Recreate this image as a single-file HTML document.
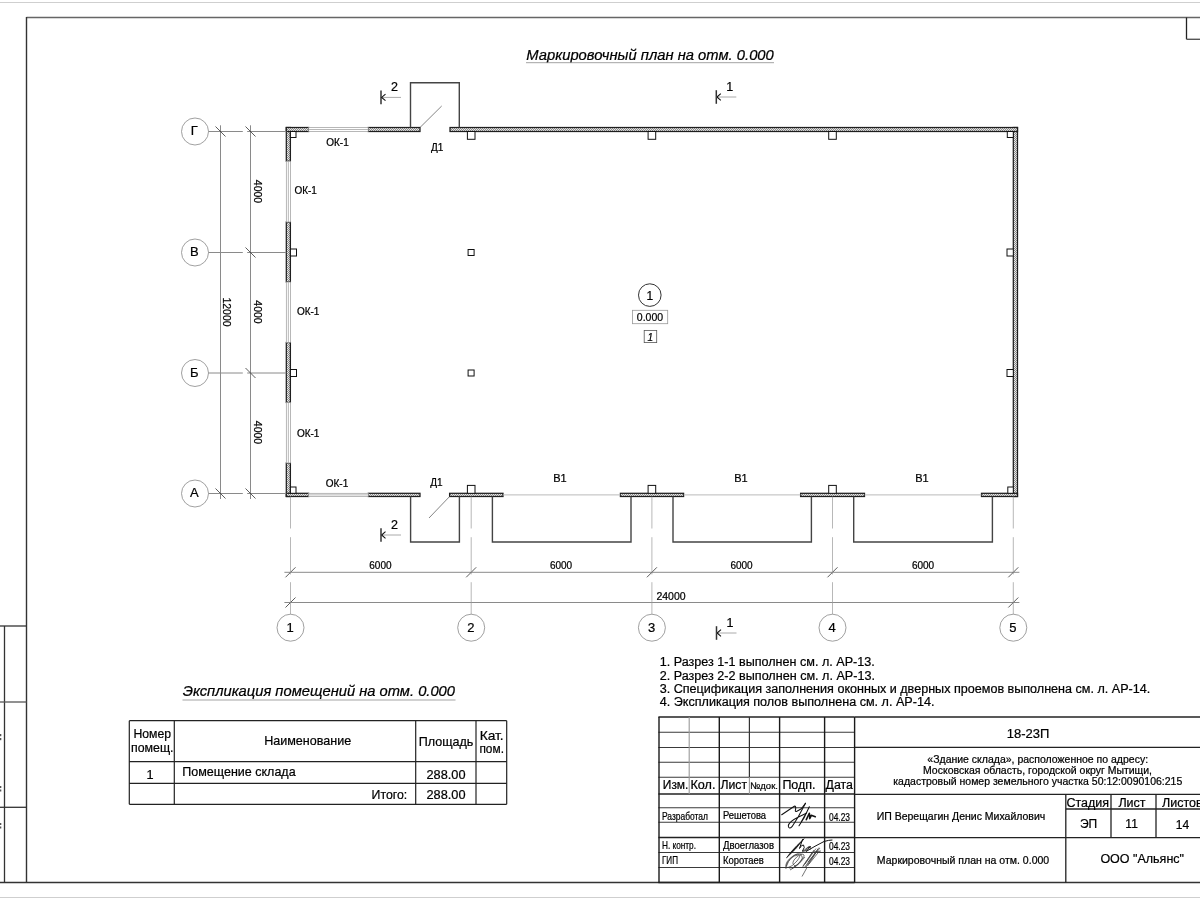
<!DOCTYPE html><html><head><meta charset="utf-8"><style>html,body{margin:0;padding:0;background:#fff;}svg{display:block;will-change:transform;}text{font-family:"Liberation Sans",sans-serif;stroke:#000;stroke-width:0.22px;}</style></head><body>
<svg width="1200" height="900" viewBox="0 0 1200 900">
<defs><pattern id="hat" width="2" height="2" patternUnits="userSpaceOnUse"><rect width="2" height="2" fill="#e8e8e8"/><rect width="1" height="1" fill="#8a8a8a"/><rect x="1" y="1" width="1" height="1" fill="#8a8a8a"/></pattern></defs>
<rect width="1200" height="900" fill="#fff"/>
<line x1="0" y1="2.5" x2="1200" y2="2.5" stroke="#cfcfcf" stroke-width="1.2" />
<line x1="0" y1="897.5" x2="1200" y2="897.5" stroke="#cfcfcf" stroke-width="1.2" />
<line x1="26.5" y1="17.5" x2="1200" y2="17.5" stroke="#666" stroke-width="1.5" />
<line x1="26.5" y1="17" x2="26.5" y2="882.5" stroke="#333" stroke-width="1.4" />
<line x1="0" y1="882.5" x2="1200" y2="882.5" stroke="#333" stroke-width="1.4" />
<line x1="1186.5" y1="17.5" x2="1186.5" y2="39.3" stroke="#222" stroke-width="1.3" />
<line x1="1186.5" y1="39.3" x2="1200" y2="39.3" stroke="#555" stroke-width="1.4" />
<line x1="0" y1="626" x2="26.5" y2="626" stroke="#333" stroke-width="1.3" />
<line x1="4.5" y1="626" x2="4.5" y2="882.5" stroke="#333" stroke-width="1.3" />
<line x1="0" y1="702" x2="26.5" y2="702" stroke="#555" stroke-width="1.3" />
<line x1="0" y1="807.3" x2="26.5" y2="807.3" stroke="#333" stroke-width="1.3" />
<rect x="0" y="734" width="1.3" height="2.2" stroke="none" stroke-width="0" fill="#555" />
<rect x="0" y="738" width="1.3" height="2.2" stroke="none" stroke-width="0" fill="#555" />
<rect x="0" y="786" width="1.3" height="2" stroke="none" stroke-width="0" fill="#555" />
<rect x="0" y="789.5" width="1.3" height="2" stroke="none" stroke-width="0" fill="#555" />
<rect x="0" y="823" width="1.3" height="2" stroke="none" stroke-width="0" fill="#555" />
<rect x="0" y="826.5" width="1.3" height="2" stroke="none" stroke-width="0" fill="#555" />
<rect x="286.3" y="127.5" width="4.099999999999966" height="33.69999999999999" stroke="#1e1e1e" stroke-width="1.25" fill="url(#hat)" />
<rect x="286.3" y="222" width="4.099999999999966" height="60" stroke="#1e1e1e" stroke-width="1.25" fill="url(#hat)" />
<rect x="286.3" y="342.5" width="4.099999999999966" height="60.0" stroke="#1e1e1e" stroke-width="1.25" fill="url(#hat)" />
<rect x="286.3" y="463" width="4.099999999999966" height="33.5" stroke="#1e1e1e" stroke-width="1.25" fill="url(#hat)" />
<rect x="286.3" y="161.2" width="4.099999999999966" height="60.80000000000001" stroke="#999" stroke-width="0.7" fill="#fff" />
<line x1="288.35" y1="161.2" x2="288.35" y2="222" stroke="#999" stroke-width="0.7" />
<rect x="286.3" y="282" width="4.099999999999966" height="60.5" stroke="#999" stroke-width="0.7" fill="#fff" />
<line x1="288.35" y1="282" x2="288.35" y2="342.5" stroke="#999" stroke-width="0.7" />
<rect x="286.3" y="402.5" width="4.099999999999966" height="60.5" stroke="#999" stroke-width="0.7" fill="#fff" />
<line x1="288.35" y1="402.5" x2="288.35" y2="463" stroke="#999" stroke-width="0.7" />
<rect x="1013.3" y="127.5" width="4.2000000000000455" height="369.0" stroke="#1e1e1e" stroke-width="1.25" fill="url(#hat)" />
<rect x="286.3" y="127.5" width="22.399999999999977" height="4.0" stroke="#1e1e1e" stroke-width="1.25" fill="url(#hat)" />
<rect x="368.2" y="127.5" width="51.80000000000001" height="4.0" stroke="#1e1e1e" stroke-width="1.25" fill="url(#hat)" />
<rect x="450" y="127.5" width="567.5" height="4.0" stroke="#1e1e1e" stroke-width="1.25" fill="url(#hat)" />
<rect x="308.7" y="127.5" width="59.5" height="4.0" stroke="#999" stroke-width="0.7" fill="#fff" />
<line x1="308.7" y1="129.5" x2="368.2" y2="129.5" stroke="#999" stroke-width="0.7" />
<rect x="286.3" y="493.3" width="22.30000000000001" height="3.1999999999999886" stroke="#1e1e1e" stroke-width="1.25" fill="url(#hat)" />
<rect x="368.3" y="493.3" width="51.69999999999999" height="3.1999999999999886" stroke="#1e1e1e" stroke-width="1.25" fill="url(#hat)" />
<rect x="449.6" y="493.3" width="53.39999999999998" height="3.1999999999999886" stroke="#1e1e1e" stroke-width="1.25" fill="url(#hat)" />
<rect x="620.4" y="493.3" width="63.200000000000045" height="3.1999999999999886" stroke="#1e1e1e" stroke-width="1.25" fill="url(#hat)" />
<rect x="800.6" y="493.3" width="63.89999999999998" height="3.1999999999999886" stroke="#1e1e1e" stroke-width="1.25" fill="url(#hat)" />
<rect x="981.5" y="493.3" width="36.0" height="3.1999999999999886" stroke="#1e1e1e" stroke-width="1.25" fill="url(#hat)" />
<rect x="308.6" y="493.3" width="59.69999999999999" height="3.1999999999999886" stroke="#999" stroke-width="0.7" fill="#fff" />
<line x1="308.6" y1="494.9" x2="368.3" y2="494.9" stroke="#999" stroke-width="0.7" />
<line x1="503" y1="494.9" x2="620.4" y2="494.9" stroke="#bbb" stroke-width="1" />
<line x1="683.6" y1="494.9" x2="800.6" y2="494.9" stroke="#bbb" stroke-width="1" />
<line x1="864.5" y1="494.9" x2="981.5" y2="494.9" stroke="#bbb" stroke-width="1" />
<polyline points="410.5,127.5 410.5,82.8 459.3,82.8 459.3,127.5" fill="none" stroke="#444" stroke-width="1.4"/>
<polyline points="410.6,496.5 410.6,542 459.4,542 459.4,496.5" fill="none" stroke="#444" stroke-width="1.4"/>
<polyline points="492.4,496.5 492.4,542 631,542 631,496.5" fill="none" stroke="#444" stroke-width="1.4"/>
<polyline points="673,496.5 673,542 811.4,542 811.4,496.5" fill="none" stroke="#444" stroke-width="1.4"/>
<polyline points="853.7,496.5 853.7,542 992.4,542 992.4,496.5" fill="none" stroke="#444" stroke-width="1.4"/>
<line x1="420" y1="127.5" x2="441.7" y2="106" stroke="#666" stroke-width="0.8" />
<line x1="449.6" y1="496.5" x2="429" y2="518" stroke="#666" stroke-width="0.8" />
<rect x="467.4" y="131.5" width="7.600000000000023" height="7.800000000000011" stroke="#111" stroke-width="1" fill="#fff" />
<rect x="467.4" y="485.4" width="7.600000000000023" height="7.900000000000034" stroke="#111" stroke-width="1" fill="#fff" />
<rect x="648.1" y="131.5" width="7.599999999999909" height="7.800000000000011" stroke="#111" stroke-width="1" fill="#fff" />
<rect x="648.1" y="485.4" width="7.599999999999909" height="7.900000000000034" stroke="#111" stroke-width="1" fill="#fff" />
<rect x="828.7" y="131.5" width="7.599999999999909" height="7.800000000000011" stroke="#111" stroke-width="1" fill="#fff" />
<rect x="828.7" y="485.4" width="7.599999999999909" height="7.900000000000034" stroke="#111" stroke-width="1" fill="#fff" />
<rect x="290.4" y="131.5" width="5.600000000000023" height="6.0" stroke="#111" stroke-width="1" fill="#fff" />
<rect x="1007.3" y="131.5" width="6.0" height="6.0" stroke="#111" stroke-width="1" fill="#fff" />
<rect x="290.4" y="487" width="5.600000000000023" height="6.300000000000011" stroke="#111" stroke-width="1" fill="#fff" />
<rect x="1007.8" y="487" width="5.5" height="6.300000000000011" stroke="#111" stroke-width="1" fill="#fff" />
<rect x="290.4" y="249.0" width="6.100000000000023" height="7.0" stroke="#111" stroke-width="1" fill="#fff" />
<rect x="1007" y="249.0" width="6.2999999999999545" height="7.0" stroke="#111" stroke-width="1" fill="#fff" />
<rect x="468.1" y="249.5" width="6.0" height="6.0" stroke="#111" stroke-width="1" fill="#fff" />
<rect x="290.4" y="369.5" width="6.100000000000023" height="7.0" stroke="#111" stroke-width="1" fill="#fff" />
<rect x="1007" y="369.5" width="6.2999999999999545" height="7.0" stroke="#111" stroke-width="1" fill="#fff" />
<rect x="468.1" y="370" width="6.0" height="6" stroke="#111" stroke-width="1" fill="#fff" />
<circle cx="195" cy="131.5" r="13.5" fill="none" stroke="#888" stroke-width="0.8"/>
<text x="194.3" y="135.1" font-size="13" text-anchor="middle" fill="#000" style="" >Г</text>
<line x1="208.5" y1="131.5" x2="242.8" y2="131.5" stroke="#8a8a8a" stroke-width="1" />
<line x1="247.2" y1="131.5" x2="286.3" y2="131.5" stroke="#8a8a8a" stroke-width="1" />
<circle cx="195" cy="252.5" r="13.5" fill="none" stroke="#888" stroke-width="0.8"/>
<text x="194.3" y="256.1" font-size="13" text-anchor="middle" fill="#000" style="" >В</text>
<line x1="208.5" y1="252.5" x2="242.8" y2="252.5" stroke="#8a8a8a" stroke-width="1" />
<line x1="247.2" y1="252.5" x2="286.3" y2="252.5" stroke="#8a8a8a" stroke-width="1" />
<circle cx="195" cy="373" r="13.5" fill="none" stroke="#888" stroke-width="0.8"/>
<text x="194.3" y="376.6" font-size="13" text-anchor="middle" fill="#000" style="" >Б</text>
<line x1="208.5" y1="373" x2="242.8" y2="373" stroke="#8a8a8a" stroke-width="1" />
<line x1="247.2" y1="373" x2="286.3" y2="373" stroke="#8a8a8a" stroke-width="1" />
<circle cx="195" cy="493.5" r="13.5" fill="none" stroke="#888" stroke-width="0.8"/>
<text x="194.3" y="497.1" font-size="13" text-anchor="middle" fill="#000" style="" >А</text>
<line x1="208.5" y1="493.5" x2="242.8" y2="493.5" stroke="#8a8a8a" stroke-width="1" />
<line x1="247.2" y1="493.5" x2="286.3" y2="493.5" stroke="#8a8a8a" stroke-width="1" />
<line x1="220.5" y1="125.3" x2="220.5" y2="499" stroke="#8a8a8a" stroke-width="1" />
<line x1="250.5" y1="125.3" x2="250.5" y2="499" stroke="#8a8a8a" stroke-width="1" />
<line x1="215.5" y1="126.5" x2="225.5" y2="136.5" stroke="#333" stroke-width="0.8" />
<line x1="215.5" y1="488.5" x2="225.5" y2="498.5" stroke="#333" stroke-width="0.8" />
<line x1="245.5" y1="126.5" x2="255.5" y2="136.5" stroke="#333" stroke-width="0.8" />
<line x1="245.5" y1="247.5" x2="255.5" y2="257.5" stroke="#333" stroke-width="0.8" />
<line x1="245.5" y1="368" x2="255.5" y2="378" stroke="#333" stroke-width="0.8" />
<line x1="245.5" y1="488.5" x2="255.5" y2="498.5" stroke="#333" stroke-width="0.8" />
<text x="0" y="0" font-size="10.5" text-anchor="middle" fill="#000" style="" transform="translate(254.2,191.5) rotate(90)">4000</text>
<text x="0" y="0" font-size="10.5" text-anchor="middle" fill="#000" style="" transform="translate(254.2,312) rotate(90)">4000</text>
<text x="0" y="0" font-size="10.5" text-anchor="middle" fill="#000" style="" transform="translate(254.2,432.5) rotate(90)">4000</text>
<text x="0" y="0" font-size="10.5" text-anchor="middle" fill="#000" style="" transform="translate(223.4,312) rotate(90)">12000</text>
<line x1="284.4" y1="572.3" x2="1019.4" y2="572.3" stroke="#8a8a8a" stroke-width="1" />
<line x1="284.4" y1="602.5" x2="1019.4" y2="602.5" stroke="#8a8a8a" stroke-width="1" />
<line x1="285.5" y1="577.3" x2="295.5" y2="567.3" stroke="#333" stroke-width="0.8" />
<line x1="466.2" y1="577.3" x2="476.2" y2="567.3" stroke="#333" stroke-width="0.8" />
<line x1="646.9" y1="577.3" x2="656.9" y2="567.3" stroke="#333" stroke-width="0.8" />
<line x1="827.5" y1="577.3" x2="837.5" y2="567.3" stroke="#333" stroke-width="0.8" />
<line x1="1008.3" y1="577.3" x2="1018.3" y2="567.3" stroke="#333" stroke-width="0.8" />
<line x1="285.5" y1="607.5" x2="295.5" y2="597.5" stroke="#333" stroke-width="0.8" />
<line x1="1008.3" y1="607.5" x2="1018.3" y2="597.5" stroke="#333" stroke-width="0.8" />
<line x1="290.5" y1="496.5" x2="290.5" y2="528.5" stroke="#999" stroke-width="0.7" />
<line x1="290.5" y1="537.2" x2="290.5" y2="574.4" stroke="#999" stroke-width="0.7" />
<line x1="290.5" y1="582.2" x2="290.5" y2="614.2" stroke="#999" stroke-width="0.7" />
<circle cx="290.5" cy="627.7" r="13.5" fill="none" stroke="#888" stroke-width="0.8"/>
<text x="290.1" y="632" font-size="13" text-anchor="middle" fill="#000" style="" >1</text>
<line x1="471.2" y1="496.5" x2="471.2" y2="528.5" stroke="#999" stroke-width="0.7" />
<line x1="471.2" y1="537.2" x2="471.2" y2="574.4" stroke="#999" stroke-width="0.7" />
<line x1="471.2" y1="582.2" x2="471.2" y2="614.2" stroke="#999" stroke-width="0.7" />
<circle cx="471.2" cy="627.7" r="13.5" fill="none" stroke="#888" stroke-width="0.8"/>
<text x="470.8" y="632" font-size="13" text-anchor="middle" fill="#000" style="" >2</text>
<line x1="651.9" y1="496.5" x2="651.9" y2="528.5" stroke="#999" stroke-width="0.7" />
<line x1="651.9" y1="537.2" x2="651.9" y2="574.4" stroke="#999" stroke-width="0.7" />
<line x1="651.9" y1="582.2" x2="651.9" y2="614.2" stroke="#999" stroke-width="0.7" />
<circle cx="651.9" cy="627.7" r="13.5" fill="none" stroke="#888" stroke-width="0.8"/>
<text x="651.5" y="632" font-size="13" text-anchor="middle" fill="#000" style="" >3</text>
<line x1="832.5" y1="496.5" x2="832.5" y2="528.5" stroke="#999" stroke-width="0.7" />
<line x1="832.5" y1="537.2" x2="832.5" y2="574.4" stroke="#999" stroke-width="0.7" />
<line x1="832.5" y1="582.2" x2="832.5" y2="614.2" stroke="#999" stroke-width="0.7" />
<circle cx="832.5" cy="627.7" r="13.5" fill="none" stroke="#888" stroke-width="0.8"/>
<text x="832.1" y="632" font-size="13" text-anchor="middle" fill="#000" style="" >4</text>
<line x1="1013.3" y1="496.5" x2="1013.3" y2="528.5" stroke="#999" stroke-width="0.7" />
<line x1="1013.3" y1="537.2" x2="1013.3" y2="574.4" stroke="#999" stroke-width="0.7" />
<line x1="1013.3" y1="582.2" x2="1013.3" y2="614.2" stroke="#999" stroke-width="0.7" />
<circle cx="1013.3" cy="627.7" r="13.5" fill="none" stroke="#888" stroke-width="0.8"/>
<text x="1012.9" y="632" font-size="13" text-anchor="middle" fill="#000" style="" >5</text>
<text x="380.4" y="569" font-size="10" text-anchor="middle" fill="#000" style="" >6000</text>
<text x="561" y="569" font-size="10" text-anchor="middle" fill="#000" style="" >6000</text>
<text x="741.5" y="569" font-size="10" text-anchor="middle" fill="#000" style="" >6000</text>
<text x="923" y="569" font-size="10" text-anchor="middle" fill="#000" style="" >6000</text>
<text x="671" y="599.5" font-size="10.5" text-anchor="middle" fill="#000" style="" >24000</text>
<text x="337.5" y="146" font-size="10" text-anchor="middle" fill="#000" style="" >ОК-1</text>
<text x="437.2" y="151" font-size="10" text-anchor="middle" fill="#000" style="" >Д1</text>
<text x="294.4" y="194" font-size="10" text-anchor="start" fill="#000" style="" >ОК-1</text>
<text x="296.9" y="315" font-size="10" text-anchor="start" fill="#000" style="" >ОК-1</text>
<text x="296.9" y="437" font-size="10" text-anchor="start" fill="#000" style="" >ОК-1</text>
<text x="337" y="486.6" font-size="10" text-anchor="middle" fill="#000" style="" >ОК-1</text>
<text x="436.3" y="485.6" font-size="10" text-anchor="middle" fill="#000" style="" >Д1</text>
<text x="560" y="482" font-size="11" text-anchor="middle" fill="#000" style="" >В1</text>
<text x="741" y="482" font-size="11" text-anchor="middle" fill="#000" style="" >В1</text>
<text x="922" y="482" font-size="11" text-anchor="middle" fill="#000" style="" >В1</text>
<line x1="381" y1="90.60000000000001" x2="381" y2="104.2" stroke="#333" stroke-width="1.5" />
<line x1="381" y1="97.4" x2="401" y2="97.4" stroke="#aaa" stroke-width="1" />
<polyline points="385.5,94.10000000000001 381.6,97.4 385.5,100.7" fill="none" stroke="#111" stroke-width="1.1"/>
<text x="394.5" y="91.2" font-size="12.5" text-anchor="middle" fill="#000" style="" >2</text>
<line x1="381" y1="528.2" x2="381" y2="541.8" stroke="#333" stroke-width="1.5" />
<line x1="381" y1="535" x2="401" y2="535" stroke="#aaa" stroke-width="1" />
<polyline points="385.5,531.7 381.6,535 385.5,538.3" fill="none" stroke="#111" stroke-width="1.1"/>
<text x="394.5" y="528.8" font-size="12.5" text-anchor="middle" fill="#000" style="" >2</text>
<line x1="716.3" y1="90.2" x2="716.3" y2="103.8" stroke="#333" stroke-width="1.5" />
<line x1="716.3" y1="97" x2="736.3" y2="97" stroke="#aaa" stroke-width="1" />
<polyline points="720.8,93.7 716.9,97 720.8,100.3" fill="none" stroke="#111" stroke-width="1.1"/>
<text x="729.8" y="90.8" font-size="12.5" text-anchor="middle" fill="#000" style="" >1</text>
<line x1="716.5" y1="626.2" x2="716.5" y2="639.8" stroke="#333" stroke-width="1.5" />
<line x1="716.5" y1="633" x2="736.5" y2="633" stroke="#aaa" stroke-width="1" />
<polyline points="721.0,629.7 717.1,633 721.0,636.3" fill="none" stroke="#111" stroke-width="1.1"/>
<text x="730.0" y="626.8" font-size="12.5" text-anchor="middle" fill="#000" style="" >1</text>
<circle cx="649.8" cy="295.1" r="11.3" fill="none" stroke="#333" stroke-width="1"/>
<text x="649.8" y="299.5" font-size="12" text-anchor="middle" fill="#000" style="" >1</text>
<rect x="632.5" y="310.3" width="35.2" height="13.4" stroke="#999" stroke-width="0.8" fill="none" />
<text x="650" y="321" font-size="10.5" text-anchor="middle" fill="#000" style="" >0.000</text>
<rect x="644.2" y="330.4" width="12.5" height="12.2" stroke="#555" stroke-width="0.8" fill="none" />
<text x="650.2" y="340.5" font-size="10" text-anchor="middle" fill="#000" style="font-style:italic" >1</text>
<text x="526.3" y="60" font-size="14.5" text-anchor="start" fill="#000" textLength="247.5" lengthAdjust="spacingAndGlyphs" style="font-style:italic" >Маркировочный план на отм. 0.000</text>
<line x1="526" y1="62.7" x2="774" y2="62.7" stroke="#999" stroke-width="0.9" />
<text x="659.7" y="665.8" font-size="12.5" text-anchor="start" fill="#000" textLength="215.1" lengthAdjust="spacingAndGlyphs" style="" >1. Разрез 1-1 выполнен см. л. АР-13.</text>
<text x="659.7" y="679.7" font-size="12.5" text-anchor="start" fill="#000" textLength="215.3" lengthAdjust="spacingAndGlyphs" style="" >2. Разрез 2-2 выполнен см. л. АР-13.</text>
<text x="659.7" y="693" font-size="12.5" text-anchor="start" fill="#000" textLength="490.6" lengthAdjust="spacingAndGlyphs" style="" >3. Спецификация заполнения оконных и дверных проемов выполнена см. л. АР-14.</text>
<text x="659.7" y="706.3" font-size="12.5" text-anchor="start" fill="#000" textLength="274.8" lengthAdjust="spacingAndGlyphs" style="" >4. Экспликация полов выполнена см. л. АР-14.</text>
<text x="182.7" y="696" font-size="14.5" text-anchor="start" fill="#000" textLength="272.3" lengthAdjust="spacingAndGlyphs" style="font-style:italic" >Экспликация помещений на отм. 0.000</text>
<line x1="182.5" y1="700" x2="455.5" y2="700" stroke="#999" stroke-width="0.9" />
<line x1="129.3" y1="720.7" x2="129.3" y2="804.3" stroke="#222" stroke-width="1.2" />
<line x1="174.3" y1="720.7" x2="174.3" y2="804.3" stroke="#222" stroke-width="1.2" />
<line x1="415.7" y1="720.7" x2="415.7" y2="804.3" stroke="#222" stroke-width="1.2" />
<line x1="476" y1="720.7" x2="476" y2="804.3" stroke="#222" stroke-width="1.2" />
<line x1="506.7" y1="720.7" x2="506.7" y2="804.3" stroke="#222" stroke-width="1.2" />
<line x1="129.3" y1="720.7" x2="506.7" y2="720.7" stroke="#222" stroke-width="1.2" />
<line x1="129.3" y1="761.7" x2="506.7" y2="761.7" stroke="#222" stroke-width="1.2" />
<line x1="129.3" y1="783.3" x2="506.7" y2="783.3" stroke="#222" stroke-width="1.2" />
<line x1="129.3" y1="804.3" x2="506.7" y2="804.3" stroke="#222" stroke-width="1.2" />
<text x="152.3" y="737.7" font-size="12.7" text-anchor="middle" fill="#000" textLength="37.7" lengthAdjust="spacingAndGlyphs" style="" >Номер</text>
<text x="152.3" y="751.5" font-size="12.7" text-anchor="middle" fill="#000" textLength="42.5" lengthAdjust="spacingAndGlyphs" style="" >помещ.</text>
<text x="307.7" y="745.3" font-size="12.7" text-anchor="middle" fill="#000" textLength="87" lengthAdjust="spacingAndGlyphs" style="" >Наименование</text>
<text x="446" y="746" font-size="12.7" text-anchor="middle" fill="#000" textLength="54.7" lengthAdjust="spacingAndGlyphs" style="" >Площадь</text>
<text x="491.7" y="739.7" font-size="12.7" text-anchor="middle" fill="#000" textLength="24" lengthAdjust="spacingAndGlyphs" style="" >Кат.</text>
<text x="491.7" y="753.3" font-size="12.7" text-anchor="middle" fill="#000" textLength="24.5" lengthAdjust="spacingAndGlyphs" style="" >пом.</text>
<text x="150" y="778.5" font-size="12.7" text-anchor="middle" fill="#000" style="" >1</text>
<text x="182.3" y="776" font-size="12.7" text-anchor="start" fill="#000" textLength="113.3" lengthAdjust="spacingAndGlyphs" style="" >Помещение склада</text>
<text x="446" y="778.5" font-size="12.7" text-anchor="middle" fill="#000" textLength="39" lengthAdjust="spacingAndGlyphs" style="" >288.00</text>
<text x="407.3" y="798.5" font-size="12.7" text-anchor="end" fill="#000" textLength="35.7" lengthAdjust="spacingAndGlyphs" style="" >Итого:</text>
<text x="446" y="798.5" font-size="12.7" text-anchor="middle" fill="#000" textLength="39" lengthAdjust="spacingAndGlyphs" style="" >288.00</text>
<line x1="658.4" y1="717" x2="854.6" y2="717" stroke="#222" stroke-width="1.4" />
<line x1="658.4" y1="732.2" x2="854.6" y2="732.2" stroke="#3a3a3a" stroke-width="1.05" />
<line x1="658.4" y1="747.5" x2="854.6" y2="747.5" stroke="#3a3a3a" stroke-width="1.05" />
<line x1="658.4" y1="762.2" x2="854.6" y2="762.2" stroke="#3a3a3a" stroke-width="1.05" />
<line x1="658.4" y1="777.2" x2="854.6" y2="777.2" stroke="#3a3a3a" stroke-width="1.05" />
<line x1="658.4" y1="794" x2="854.6" y2="794" stroke="#222" stroke-width="1.4" />
<line x1="658.4" y1="807.8" x2="854.6" y2="807.8" stroke="#3a3a3a" stroke-width="1.05" />
<line x1="658.4" y1="822.3" x2="854.6" y2="822.3" stroke="#3a3a3a" stroke-width="1.05" />
<line x1="658.4" y1="837.5" x2="854.6" y2="837.5" stroke="#222" stroke-width="1.4" />
<line x1="658.4" y1="852.5" x2="854.6" y2="852.5" stroke="#3a3a3a" stroke-width="1.05" />
<line x1="658.4" y1="867.5" x2="854.6" y2="867.5" stroke="#3a3a3a" stroke-width="1.05" />
<line x1="658.4" y1="882.5" x2="854.6" y2="882.5" stroke="#222" stroke-width="1.4" />
<line x1="659" y1="717" x2="659" y2="882.5" stroke="#1a1a1a" stroke-width="1.4" />
<line x1="689.2" y1="717" x2="689.2" y2="794" stroke="#9a9a9a" stroke-width="1.1" />
<line x1="719.3" y1="717" x2="719.3" y2="882.5" stroke="#1a1a1a" stroke-width="1.4" />
<line x1="749.4" y1="717" x2="749.4" y2="777.2" stroke="#333" stroke-width="1.2" />
<line x1="749.4" y1="777.2" x2="749.4" y2="794" stroke="#9a9a9a" stroke-width="1.1" />
<line x1="779.6" y1="717" x2="779.6" y2="882.5" stroke="#1a1a1a" stroke-width="1.4" />
<line x1="824.6" y1="717" x2="824.6" y2="882.5" stroke="#1a1a1a" stroke-width="1.4" />
<line x1="854.6" y1="717" x2="854.6" y2="882.5" stroke="#1a1a1a" stroke-width="1.4" />
<line x1="854.6" y1="717" x2="1200" y2="717" stroke="#222" stroke-width="1.3" />
<line x1="854.6" y1="747.3" x2="1200" y2="747.3" stroke="#222" stroke-width="1.3" />
<line x1="854.6" y1="794.3" x2="1200" y2="794.3" stroke="#222" stroke-width="1.3" />
<line x1="854.6" y1="837.6" x2="1200" y2="837.6" stroke="#222" stroke-width="1.3" />
<line x1="1065.8" y1="794.3" x2="1065.8" y2="882.5" stroke="#222" stroke-width="1.3" />
<line x1="1111" y1="794.3" x2="1111" y2="837.6" stroke="#222" stroke-width="1.3" />
<line x1="1156" y1="794.3" x2="1156" y2="837.6" stroke="#222" stroke-width="1.3" />
<line x1="1065.8" y1="809" x2="1200" y2="809" stroke="#222" stroke-width="1.3" />
<text x="662.8" y="789" font-size="12" text-anchor="start" fill="#000" textLength="25.6" lengthAdjust="spacingAndGlyphs" style="" >Изм.</text>
<text x="690.5" y="789" font-size="12" text-anchor="start" fill="#000" textLength="25" lengthAdjust="spacingAndGlyphs" style="" >Кол.</text>
<text x="720.4" y="789" font-size="12" text-anchor="start" fill="#000" textLength="26.6" lengthAdjust="spacingAndGlyphs" style="" >Лист</text>
<text x="750" y="789" font-size="9.5" text-anchor="start" fill="#000" textLength="28" lengthAdjust="spacingAndGlyphs" style="" >№док.</text>
<text x="782.4" y="789" font-size="12" text-anchor="start" fill="#000" textLength="33.2" lengthAdjust="spacingAndGlyphs" style="" >Подп.</text>
<text x="825.6" y="789" font-size="12" text-anchor="start" fill="#000" textLength="27.4" lengthAdjust="spacingAndGlyphs" style="" >Дата</text>
<text x="662" y="819.6" font-size="10.4" text-anchor="start" fill="#000" textLength="46" lengthAdjust="spacingAndGlyphs" style="" >Разработал</text>
<text x="723" y="819" font-size="10.4" text-anchor="start" fill="#000" textLength="43" lengthAdjust="spacingAndGlyphs" style="" >Решетова</text>
<text x="829" y="820.6" font-size="10.4" text-anchor="start" fill="#000" textLength="21" lengthAdjust="spacingAndGlyphs" style="" >04.23</text>
<text x="662" y="849" font-size="10.4" text-anchor="start" fill="#000" textLength="34" lengthAdjust="spacingAndGlyphs" style="" >Н. контр.</text>
<text x="723" y="848.8" font-size="10.4" text-anchor="start" fill="#000" textLength="51" lengthAdjust="spacingAndGlyphs" style="" >Двоеглазов</text>
<text x="829" y="849.6" font-size="10.4" text-anchor="start" fill="#000" textLength="21" lengthAdjust="spacingAndGlyphs" style="" >04.23</text>
<text x="662" y="864.4" font-size="10.4" text-anchor="start" fill="#000" textLength="16" lengthAdjust="spacingAndGlyphs" style="" >ГИП</text>
<text x="723" y="864" font-size="10.4" text-anchor="start" fill="#000" textLength="40.8" lengthAdjust="spacingAndGlyphs" style="" >Коротаев</text>
<text x="829" y="864.6" font-size="10.4" text-anchor="start" fill="#000" textLength="21" lengthAdjust="spacingAndGlyphs" style="" >04.23</text>
<text x="1028" y="737.5" font-size="13" text-anchor="middle" fill="#000" style="" >18-23П</text>
<text x="1037.7" y="762.5" font-size="10.5" text-anchor="middle" fill="#000" textLength="220.7" lengthAdjust="spacingAndGlyphs" style="" >«Здание склада», расположенное по адресу:</text>
<text x="1037.5" y="773.8" font-size="10.5" text-anchor="middle" fill="#000" textLength="229" lengthAdjust="spacingAndGlyphs" style="" >Московская область, городской округ Мытищи,</text>
<text x="1037.8" y="785" font-size="10.5" text-anchor="middle" fill="#000" textLength="289" lengthAdjust="spacingAndGlyphs" style="" >кадастровый номер земельного участка 50:12:0090106:215</text>
<text x="961" y="819.5" font-size="10.5" text-anchor="middle" fill="#000" textLength="168.6" lengthAdjust="spacingAndGlyphs" style="" >ИП Верещагин Денис Михайлович</text>
<text x="1087.7" y="807" font-size="12.5" text-anchor="middle" fill="#000" style="" >Стадия</text>
<text x="1132" y="807" font-size="12.5" text-anchor="middle" fill="#000" style="" >Лист</text>
<text x="1162" y="807" font-size="12.5" text-anchor="start" fill="#000" style="" >Листов</text>
<text x="1088.6" y="828" font-size="12" text-anchor="middle" fill="#000" style="" >ЭП</text>
<text x="1131.6" y="828" font-size="12" text-anchor="middle" fill="#000" style="" >11</text>
<text x="1182.5" y="829" font-size="12" text-anchor="middle" fill="#000" style="" >14</text>
<text x="963" y="864" font-size="10.6" text-anchor="middle" fill="#000" textLength="172.4" lengthAdjust="spacingAndGlyphs" style="" >Маркировочный план на отм. 0.000</text>
<text x="1142.2" y="863" font-size="12.5" text-anchor="middle" fill="#000" style="" >ООО "Альянс"</text>
<g fill="none" stroke="#111" stroke-width="1.05" stroke-linecap="round" stroke-linejoin="round">
<path d="M781.7,814.8 L794.3,806.2 Q796.5,805.5 795.3,811 Q795.5,812.5 801.3,808.7 L805.5,803.3"/>
<path d="M805.5,803.3 L798,817.3 L792,826.7 Q789,829.8 788.3,826 Q788.5,822 798,817.3 L806.3,813.3"/>
<path d="M809.3,806.7 L804,818 L799,825.7 M801.3,821.7 L806.5,812.5"/>
<path d="M806.3,819.7 L809.3,813.3 Q810,816 809.7,818.7 L811.3,815.3 L815.3,816.7" stroke-width="1.6"/>
<path d="M786.8,857.5 Q790,852.5 797,845.5 Q801,841.5 804.2,838.7 Q800,843.5 795.5,849 Q791,853.5 786.8,857.5 Z" stroke-width="0.7" fill="#111"/>
<path d="M802.5,839.5 L799.5,848.5 Q801.5,844.5 803.5,845 Q805.5,847 802.5,851 Q805,852 806.5,849 Q807,847.5 810.5,846.5 L806,851.5 Q815,846 824,841.5 Q829,840 832,840" stroke-width="1"/>
</g>
<g fill="none" stroke="#3a3a3a" stroke-width="0.7">
<path d="M787,867.5 Q785,865 790,859 Q796,853 799,854.5 Q801,856 797,861 Q792,867 788,867.5 Z"/>
<path d="M789,868 Q793,869 798,864 L803,858 Q806,854 801,854 Q797,856 794,860 Q791,865 796,866"/>
<path d="M786,869 Q784,862 793,856 Q799,852 802,855 M790,870 Q797,867 801,861 Q804,856 800,855"/>
<path d="M786.5,866 Q790,856 798,855 M792,868.5 Q800,864 805,857"/>
<path d="M804.5,867.5 L819,847.5 M806,867 L818,849 M807.5,866 L817,851 M803,866 L814,850 M805,864 L816,848.5 M808,862 L820,848 M802,868 L812,853 M809,864 L819.5,851"/>
<path d="M807,867.5 L802,876.5 M802,852 L808,847 Q812,845 810,850 M813,852 L821,851"/>
</g>
</svg></body></html>
